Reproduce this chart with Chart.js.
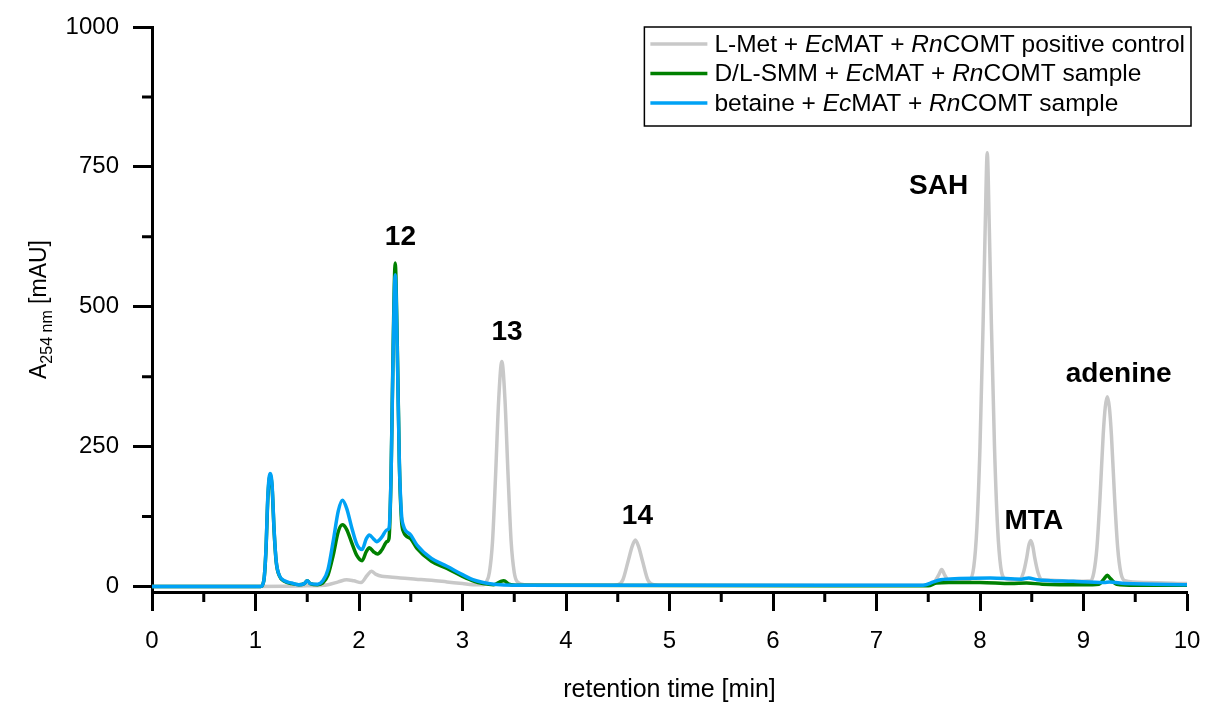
<!DOCTYPE html>
<html>
<head>
<meta charset="utf-8">
<script src="https://cdn.jsdelivr.net/npm/chart.js@4.4.1/dist/chart.umd.min.js"></script>
<style>
  html, body { margin: 0; padding: 0; background: #fff; }
</style>
</head>
<body>
<canvas id="chromChart" width="1205" height="704"></canvas>
<script>
// retention time [min] / A254 [mAU]
const metTime = [0, 1.0, 1.5, 1.7, 1.8, 1.88, 1.95, 2.02, 2.08, 2.12, 2.16, 2.22, 2.3, 2.4, 2.55, 2.7, 2.85, 3.0, 3.1, 3.2,
  3.23, 3.26, 3.29, 3.32, 3.35, 3.38, 3.41, 3.44, 3.47, 3.5, 3.53, 3.6, 4.4, 4.5, 4.55, 4.6, 4.64, 4.67, 4.7, 4.74,
  4.79, 4.85, 4.95, 7.5, 7.56, 7.6, 7.63, 7.66, 7.7, 7.8, 7.9, 7.94, 7.97, 8.0, 8.03, 8.05, 8.07, 8.09, 8.11, 8.14,
  8.17, 8.2, 8.24, 8.3, 8.38, 8.42, 8.45, 8.47, 8.49, 8.51, 8.53, 8.56, 8.6, 8.7, 8.9, 9.07, 9.1, 9.13, 9.16, 9.19,
  9.21, 9.23, 9.25, 9.27, 9.3, 9.33, 9.36, 9.4, 9.6, 10];
const metAbs = [0, 0, 1, 3, 8, 12, 10, 7, 20, 27, 22, 18, 17, 15, 13, 11, 8, 5, 3, 3,
  8, 25, 80, 200, 335, 402, 335, 200, 80, 25, 8, 3, 2, 3, 12, 45, 72, 83, 72, 45,
  12, 3, 2, 2, 8, 20, 30, 20, 10, 10, 12, 35, 105, 250, 470, 640, 775, 640, 470, 250,
  105, 35, 14, 12, 12, 25, 50, 72, 82, 72, 50, 25, 12, 11, 9, 10, 25, 70, 160, 270,
  320, 339, 320, 270, 160, 70, 25, 10, 7, 5];

const smmTime = [0, 1.05, 1.08, 1.1, 1.12, 1.14, 1.16, 1.18, 1.2, 1.23, 1.28, 1.35, 1.42, 1.47, 1.5, 1.53, 1.6, 1.65, 1.7, 1.75,
  1.8, 1.84, 1.88, 1.93, 1.98, 2.03, 2.07, 2.1, 2.14, 2.18, 2.22, 2.27, 2.29, 2.31, 2.33, 2.35, 2.37, 2.39, 2.41, 2.43,
  2.5, 2.56, 2.7, 2.85, 3.0, 3.1, 3.2, 3.3, 3.37, 3.4, 3.45, 3.55, 7.5, 7.58, 7.7, 8.0, 8.3, 8.45, 8.6, 9.0,
  9.15, 9.2, 9.23, 9.26, 9.32, 9.5, 10];
const smmAbs = [0, 0, 10, 60, 160, 198, 178, 98, 44, 19, 9, 5, 3, 5, 10, 5, 3, 6, 20, 55,
  98, 110, 102, 78, 55, 46, 62, 69, 62, 58, 65, 80, 86, 200, 430, 578, 430, 220, 120, 98,
  85, 68, 45, 32, 18, 10, 5, 3, 9, 10, 4, 2, 1, 6, 7, 7, 5, 6, 4, 3,
  4, 14, 20, 14, 4, 2, 2];

const betTime = [0, 1.05, 1.08, 1.1, 1.12, 1.14, 1.16, 1.18, 1.2, 1.23, 1.28, 1.35, 1.42, 1.47, 1.5, 1.53, 1.6, 1.65, 1.7, 1.75,
  1.8, 1.84, 1.88, 1.93, 1.98, 2.03, 2.07, 2.1, 2.14, 2.17, 2.22, 2.27, 2.29, 2.31, 2.33, 2.35, 2.37, 2.39, 2.41, 2.43,
  2.5, 2.56, 2.7, 2.85, 3.0, 3.1, 3.2, 3.3, 3.5, 7.45, 7.55, 7.62, 7.8, 8.1, 8.4, 8.47, 8.55, 8.9, 9.2, 9.25,
  9.4, 10];
const betAbs = [0, 0, 10, 62, 165, 202, 182, 100, 45, 20, 10, 6, 3, 5, 10, 5, 4, 10, 30, 80,
  135, 154, 140, 105, 75, 66, 85, 92, 85, 80, 88, 101, 104, 200, 420, 557, 420, 220, 130, 108,
  92, 74, 50, 36, 21, 12, 7, 4, 2, 2, 8, 12, 14, 15, 13, 15, 12, 9, 7, 8,
  5, 3];

const xTicks = [0, 1, 2, 3, 4, 5, 6, 7, 8, 9, 10];
const xMinorTicks = [0.5, 1.5, 2.5, 3.5, 4.5, 5.5, 6.5, 7.5, 8.5, 9.5];
const yTicks = [0, 250, 500, 750, 1000];
const yMinorTicks = [125, 375, 625, 875];

// peak names and where they sit (time, absorbance)
const peakNames = ['12', '13', '14', 'SAH', 'MTA', 'adenine'];
const peakNameTime = [2.40, 3.43, 4.69, 7.60, 8.52, 9.34];
const peakNameAbs = [624, 454, 126, 715, 117, 379];

// legend texts, odd pieces are italic
const legendParts = [
  ['L-Met + ', 'Ec', 'MAT + ', 'Rn', 'COMT positive control'],
  ['D/L-SMM + ', 'Ec', 'MAT + ', 'Rn', 'COMT sample'],
  ['betaine + ', 'Ec', 'MAT + ', 'Rn', 'COMT sample']
];

const FONT = '"Liberation Sans", Arial, sans-serif';
const colors = ['#c8c8c8', '#008000', '#00a2f5'];

const toPoints = (t, a) => t.map((v, i) => ({ x: v, y: a[i] }));

const extras = {
  id: 'extras',
  afterDraw(chart) {
    const { ctx, chartArea, scales: { x, y } } = chart;
    ctx.save();

    // minor ticks
    ctx.strokeStyle = '#000';
    ctx.lineWidth = 3;
    ctx.beginPath();
    xMinorTicks.forEach(v => {
      const px = x.getPixelForValue(v);
      ctx.moveTo(px, chartArea.bottom);
      ctx.lineTo(px, chartArea.bottom + 10);
    });
    yMinorTicks.forEach(v => {
      const py = y.getPixelForValue(v);
      ctx.moveTo(chartArea.left, py);
      ctx.lineTo(chartArea.left - 10, py);
    });
    ctx.stroke();

    // peak labels
    ctx.fillStyle = '#000';
    ctx.font = 'bold 28px ' + FONT;
    ctx.textAlign = 'center';
    ctx.textBaseline = 'middle';
    peakNames.forEach((name, i) => {
      ctx.fillText(name, x.getPixelForValue(peakNameTime[i]), y.getPixelForValue(peakNameAbs[i]));
    });

    // x axis title
    ctx.font = '25px ' + FONT;
    ctx.fillText('retention time [min]', (chartArea.left + chartArea.right) / 2, chartArea.bottom + 98);

    // y axis title with subscript
    const mainFont = '23px ' + FONT;
    const subFont = '16px ' + FONT;
    ctx.font = mainFont;
    const wA = ctx.measureText('A').width;
    const wRest = ctx.measureText(' [mAU]').width;
    ctx.font = subFont;
    const wSub = ctx.measureText('254 nm').width;
    const total = wA + wSub + wRest;
    ctx.translate(38, (chartArea.top + chartArea.bottom) / 2);
    ctx.rotate(-Math.PI / 2);
    ctx.textAlign = 'left';
    ctx.textBaseline = 'alphabetic';
    let cx = -total / 2;
    ctx.font = mainFont;
    ctx.fillText('A', cx, 8);
    cx += wA;
    ctx.font = subFont;
    ctx.fillText('254 nm', cx, 14);
    cx += wSub;
    ctx.font = mainFont;
    ctx.fillText(' [mAU]', cx, 8);
    ctx.setTransform(1, 0, 0, 1, 0, 0);

    // legend
    const lFont = '24.5px ' + FONT;
    const lItalic = 'italic 24.5px ' + FONT;
    const widths = legendParts.map(parts => parts.reduce((w, p, i) => {
      ctx.font = i % 2 ? lItalic : lFont;
      return w + ctx.measureText(p).width;
    }, 0));
    const textW = Math.max(...widths);
    const rowH = 29.5;
    const boxW = 6 + 57 + 7 + textW + 6;
    const boxH = 99;
    const boxR = chartArea.right + 4;
    const boxL = boxR - boxW;
    const boxT = chartArea.top;
    ctx.fillStyle = '#fff';
    ctx.fillRect(boxL, boxT, boxW, boxH);
    ctx.strokeStyle = '#000';
    ctx.lineWidth = 1.5;
    ctx.strokeRect(boxL, boxT, boxW, boxH);
    ctx.textBaseline = 'middle';
    legendParts.forEach((parts, r) => {
      const ry = boxT + 17 + r * rowH;
      ctx.strokeStyle = colors[r];
      ctx.lineWidth = 3.5;
      ctx.beginPath();
      ctx.moveTo(boxL + 6, ry);
      ctx.lineTo(boxL + 63, ry);
      ctx.stroke();
      let tx = boxL + 70;
      ctx.fillStyle = '#000';
      parts.forEach((p, i) => {
        ctx.font = i % 2 ? lItalic : lFont;
        ctx.fillText(p, tx, ry + 1);
        tx += ctx.measureText(p).width;
      });
    });

    ctx.restore();
  }
};

const lineStyle = {
  borderWidth: 3.5,
  pointRadius: 0,
  fill: false,
  cubicInterpolationMode: 'monotone'
};

new Chart(document.getElementById('chromChart'), {
  type: 'line',
  data: {
    datasets: [
      { ...lineStyle, label: 'L-Met + EcMAT + RnCOMT positive control', data: toPoints(metTime, metAbs), borderColor: colors[0], order: 3 },
      { ...lineStyle, label: 'D/L-SMM + EcMAT + RnCOMT sample', data: toPoints(smmTime, smmAbs), borderColor: colors[1], order: 2 },
      { ...lineStyle, label: 'betaine + EcMAT + RnCOMT sample', data: toPoints(betTime, betAbs), borderColor: colors[2], order: 1 }
    ]
  },
  options: {
    responsive: false,
    animation: false,
    layout: { padding: { top: 27, right: 18, left: 0, bottom: 0 } },
    plugins: {
      legend: { display: false },
      tooltip: { enabled: false }
    },
    scales: {
      x: {
        type: 'linear',
        min: 0,
        max: 10,
        afterBuildTicks: s => { s.ticks = xTicks.map(v => ({ value: v })); },
        afterFit: s => { s.height = 112; s.paddingLeft = 0; s.paddingRight = 0; },
        border: { display: true, color: '#000', width: 3 },
        grid: { drawOnChartArea: false, drawTicks: true, tickLength: 19, tickWidth: 3, tickColor: '#000' },
        ticks: {
          color: '#000',
          font: { family: FONT, size: 24 },
          padding: 16,
          maxRotation: 0,
          callback: v => String(v)
        }
      },
      y: {
        type: 'linear',
        min: -10,
        max: 1000,
        afterBuildTicks: s => { s.ticks = yTicks.map(v => ({ value: v })); },
        afterFit: s => { s.width = 152; s.paddingTop = 0; s.paddingBottom = 0; },
        border: { display: true, color: '#000', width: 3 },
        grid: { drawOnChartArea: false, drawTicks: true, tickLength: 19, tickWidth: 3, tickColor: '#000' },
        ticks: {
          color: '#000',
          font: { family: FONT, size: 24 },
          padding: 14,
          callback: v => String(v)
        }
      }
    }
  },
  plugins: [extras]
});
</script>
</body>
</html>
